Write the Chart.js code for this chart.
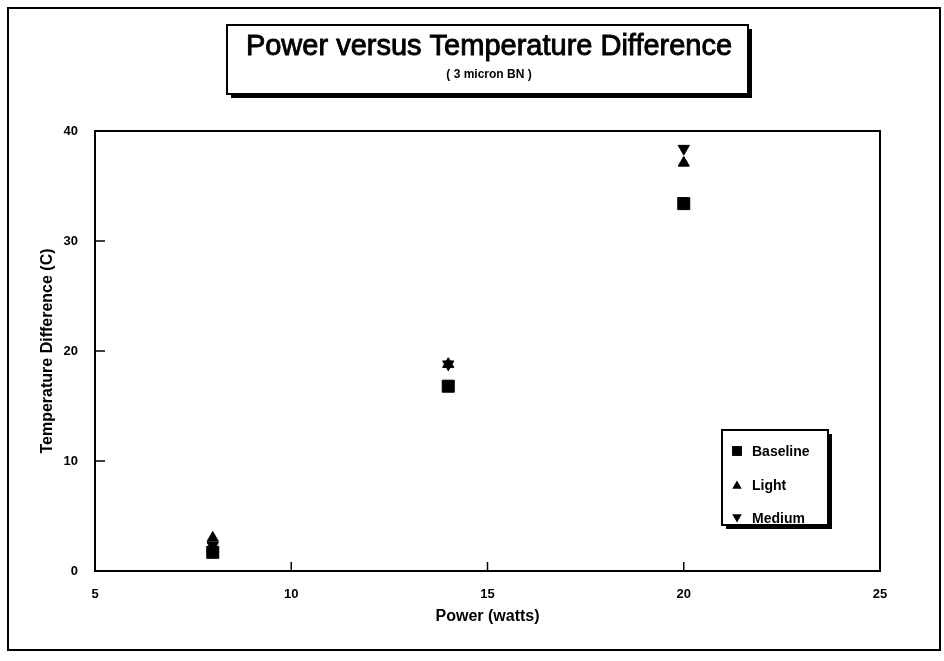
<!DOCTYPE html>
<html>
<head>
<meta charset="utf-8">
<script src="https://cdn.jsdelivr.net/npm/chart.js@4/dist/chart.umd.min.js"></script>
<style>
  html, body { margin: 0; padding: 0; background: #fff; }
  #wrap { width: 944px; height: 661px; }
</style>
</head>
<body>
<div id="wrap"><canvas id="c" width="944" height="661"></canvas></div>
<script>
// ---- data ----
const powerWatts = [8, 14, 20];
const baselineDT = [1.7, 16.8, 33.4];
const lightDT    = [3.0, 18.8, 37.1];
const mediumDT   = [2.3, 18.8, 38.4];
const seriesNames = ['Baseline', 'Light', 'Medium'];
const xTicks = [5, 10, 15, 20, 25];
const yTicks = [0, 10, 20, 30, 40];
const chartTitle = 'Power versus Temperature Difference';
const chartSubtitle = '( 3 micron BN )';
const xTitle = 'Power (watts)';
const yTitle = 'Temperature Difference (C)';

const FONT = '"Liberation Sans", Arial, Helvetica, sans-serif';

function pts(ys) { return powerWatts.map((x, i) => ({ x: x, y: ys[i] })); }

const styles = [
  { pointStyle: 'rect', pointRadius: 8.5, rotation: 0 },
  { pointStyle: 'triangle', pointRadius: 6.5, rotation: 0 },
  { pointStyle: 'triangle', pointRadius: 6.5, rotation: 180 }
];
const seriesData = [baselineDT, lightDT, mediumDT];

const datasets = seriesNames.map((name, i) => ({
  label: name,
  data: pts(seriesData[i]),
  pointStyle: styles[i].pointStyle,
  pointRadius: styles[i].pointRadius,
  pointRotation: styles[i].rotation,
  backgroundColor: '#000',
  borderColor: '#000',
  borderWidth: 1,
  showLine: false
}));

function drawMarker(ctx, style, r, rot, x, y) {
  ctx.save();
  ctx.translate(x, y);
  ctx.rotate(rot * Math.PI / 180);
  ctx.fillStyle = '#000';
  ctx.beginPath();
  if (style === 'rect') {
    const s = r * Math.SQRT1_2;
    ctx.rect(-s, -s, 2 * s, 2 * s);
  } else {
    for (let k = 0; k < 3; k++) {
      const a = -Math.PI / 2 + k * 2 * Math.PI / 3;
      const px = Math.cos(a) * r, py = Math.sin(a) * r;
      if (k === 0) ctx.moveTo(px, py); else ctx.lineTo(px, py);
    }
    ctx.closePath();
  }
  ctx.fill();
  ctx.restore();
}

function boxWithShadow(ctx, x0, y0, x1, y1) {
  ctx.save();
  ctx.fillStyle = '#000';
  ctx.fillRect(x0 + 4, y1, x1 - x0, 4);
  ctx.fillRect(x1, y0 + 4, 4, y1 - y0);
  ctx.fillStyle = '#fff';
  ctx.fillRect(x0, y0, x1 - x0, y1 - y0);
  ctx.strokeStyle = '#000';
  ctx.lineWidth = 2;
  ctx.strokeRect(x0, y0, x1 - x0, y1 - y0);
  ctx.restore();
}

const decor = {
  id: 'decor',
  beforeDraw(chart) {
    const ctx = chart.ctx;
    ctx.save();
    ctx.fillStyle = '#fff';
    ctx.fillRect(0, 0, chart.width, chart.height);
    // outer frame
    ctx.strokeStyle = '#000';
    ctx.lineWidth = 2;
    ctx.strokeRect(8, 8, 932, 642);
    ctx.restore();
  },
  afterDraw(chart) {
    const ctx = chart.ctx;
    const a = chart.chartArea;
    const xs = chart.scales.x, ys = chart.scales.y;
    ctx.save();
    // plot frame
    ctx.strokeStyle = '#000';
    ctx.lineWidth = 2;
    ctx.strokeRect(a.left, a.top, a.right - a.left, a.bottom - a.top);
    // inward ticks
    ctx.lineWidth = 1.5;
    ctx.beginPath();
    xTicks.forEach(v => {
      const px = xs.getPixelForValue(v);
      ctx.moveTo(px, a.bottom);
      ctx.lineTo(px, a.bottom - 9);
    });
    yTicks.forEach(v => {
      const py = ys.getPixelForValue(v);
      ctx.moveTo(a.left, py);
      ctx.lineTo(a.left + 10, py);
    });
    ctx.stroke();

    // title box
    boxWithShadow(ctx, 227, 25, 748, 94);
    ctx.fillStyle = '#000';
    ctx.strokeStyle = '#000';
    ctx.textAlign = 'center';
    ctx.textBaseline = 'alphabetic';
    ctx.font = '29px ' + FONT;
    ctx.lineWidth = 0.9;
    ctx.fillText(chartTitle, 489, 55);
    ctx.strokeText(chartTitle, 489, 55);
    ctx.font = 'bold 12px ' + FONT;
    ctx.fillText(chartSubtitle, 489, 78);

    // legend box
    boxWithShadow(ctx, 722, 430, 828, 525);
    const ly = [451, 485, 518];
    ctx.textAlign = 'left';
    ctx.textBaseline = 'middle';
    ctx.font = 'bold 14px ' + FONT;
    seriesNames.forEach((n, i) => {
      const r = i === 0 ? 7 : 5.5;
      drawMarker(ctx, styles[i].pointStyle, r, styles[i].rotation, 737, ly[i] + (i === 0 ? 0 : (i === 1 ? 1 : -1)));
      ctx.fillText(n, 752, ly[i] + 1);
    });
    ctx.restore();
  }
};

new Chart(document.getElementById('c'), {
  type: 'scatter',
  data: { datasets: datasets },
  options: {
    responsive: false,
    animation: false,
    events: [],
    layout: { padding: { left: 0, right: 64, top: 131, bottom: 0 } },
    plugins: {
      legend: { display: false },
      title: { display: false },
      tooltip: { enabled: false }
    },
    scales: {
      x: {
        type: 'linear',
        min: 5, max: 25,
        afterFit(s) { s.height = 90; },
        afterBuildTicks(s) { s.ticks = xTicks.map(v => ({ value: v })); },
        grid: { display: false },
        border: { display: false },
        ticks: { color: '#000', padding: 8, font: { family: FONT, size: 13, weight: 'bold' } },
        title: {
          display: true, text: xTitle, color: '#000',
          font: { family: FONT, size: 16, weight: 'bold' },
          padding: { top: 0, bottom: 35 }
        }
      },
      y: {
        type: 'linear',
        min: 0, max: 40,
        afterFit(s) { s.width = 95; },
        afterBuildTicks(s) { s.ticks = yTicks.map(v => ({ value: v })); },
        grid: { display: false },
        border: { display: false },
        ticks: { color: '#000', padding: 9, font: { family: FONT, size: 13, weight: 'bold' } },
        title: {
          display: true, text: yTitle, color: '#000',
          font: { family: FONT, size: 16, weight: 'bold' },
          padding: { top: 38, bottom: 0 }
        }
      }
    }
  },
  plugins: [decor]
});
</script>
</body>
</html>
